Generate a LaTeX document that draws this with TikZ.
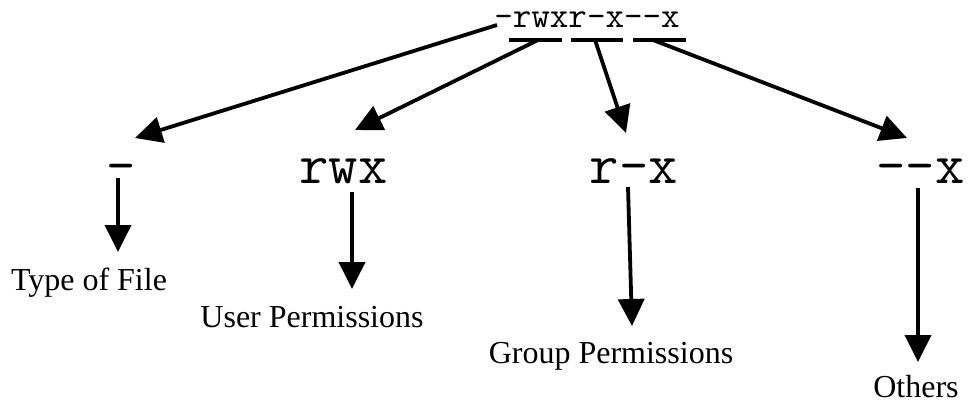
\documentclass[tikz,border=0pt]{standalone}
\usepackage{fontspec}
\setmainfont{Liberation Serif}
\usetikzlibrary{arrows.meta}
\tikzset{
  conn/.style={line width=3.8pt, -{Triangle[length=27pt,width=26pt]}},
  uline/.style={line width=4.5pt},
  toptext/.style={inner sep=0pt, anchor=base, font=\ttfamily\fontsize{36}{40}\selectfont},
  midtext/.style={inner sep=0pt, anchor=base, font=\ttfamily\fontsize{57}{62}\selectfont},
  labeltext/.style={inner sep=0pt, anchor=base, font=\fontsize{32}{36}\selectfont},
}
\begin{document}
\begin{tikzpicture}[x=1pt,y=-1pt]
\useasboundingbox (0,0) rectangle (971,402);
% top string
\node[toptext] (perm) at (587,27) {-rwxr-x--x};
% underlines
\coordinate (u1a) at (509,40); \coordinate (u1b) at (562,40);
\coordinate (u2a) at (571,40); \coordinate (u2b) at (623,40);
\coordinate (u3a) at (633,40); \coordinate (u3b) at (686,40);
\draw[uline] (u1a) -- (u1b);
\draw[uline] (u2a) -- (u2b);
\draw[uline] (u3a) -- (u3b);
% middle labels
\node[midtext] (ftype) at (121,183) {-};
\node[midtext] (user) at (343.5,183) {rwx};
\node[midtext] (group) at (634,183) {r-x};
\node[midtext] (other) at (920.5,183) {--x};
% bottom labels
\node[labeltext] (ltype) at (89,290) {Type of File};
\node[labeltext] (luser) at (312,327) {User Permissions};
\node[labeltext] (lgroup) at (611,363) {Group Permissions};
\node[labeltext] (lother) at (916,397) {Others};
% connector end points
\coordinate (s1) at (497,25);  \coordinate (t1) at (135,138);
\coordinate (s2) at (538,40);  \coordinate (t2) at (355,130);
\coordinate (s3) at (595,40);  \coordinate (t3) at (626,133);
\coordinate (s4) at (653,40);  \coordinate (t4) at (907,138);
\coordinate (v1s) at (118,178); \coordinate (v1t) at (118,252);
\coordinate (v2s) at (352,192); \coordinate (v2t) at (352,289);
\coordinate (v3s) at (628,187); \coordinate (v3t) at (632,326);
\coordinate (v4s) at (918,188); \coordinate (v4t) at (918,362);
\draw[conn] (s1) -- (t1);
\draw[conn] (s2) -- (t2);
\draw[conn] (s3) -- (t3);
\draw[conn] (s4) -- (t4);
\draw[conn] (v1s) -- (v1t);
\draw[conn] (v2s) -- (v2t);
\draw[conn] (v3s) -- (v3t);
\draw[conn] (v4s) -- (v4t);
\end{tikzpicture}
\end{document}
